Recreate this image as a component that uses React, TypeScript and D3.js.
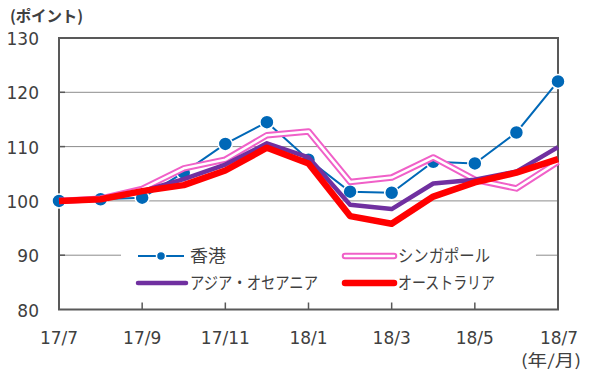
import React from "react";
import * as d3 from "d3";

const months = ["17/7","17/8","17/9","17/10","17/11","17/12","18/1","18/2","18/3","18/4","18/5","18/6","18/7"];
const xTickLabels = ["17/7","17/9","17/11","18/1","18/3","18/5","18/7"];
const yTicks = [80, 90, 100, 110, 120, 130];

const hongKong = [100, 100.3, 100.6, 105.2, 110.5, 114.5, 107.6, 101.7, 101.5, 107.2, 106.9, 112.6, 122.0];
const singapore = [100, 100.4, 102.2, 106.0, 107.6, 112.1, 112.8, 103.5, 104.3, 108.0, 103.9, 102.3, 107.2];
const asiaOceania = [100, 100.3, 101.8, 104.0, 106.7, 110.6, 108.0, 99.3, 98.5, 103.2, 103.9, 105.4, 109.9];
const australia = [100, 100.3, 101.8, 102.9, 105.6, 109.8, 106.9, 97.2, 95.8, 100.8, 103.4, 105.2, 107.7];

const seriesNames = ["香港", "シンガポール", "アジア・オセアニア", "オーストラリア"];

const W = 596, H = 376;
const L = 59, R = 558, T = 38, B = 309.5;
const FONT = "'Noto Sans CJK JP', 'Noto Sans', sans-serif";
const NUMFONT = "'DejaVu Sans', Verdana, sans-serif";
const TXT = "#404040";
const AXIS = "#595959";
const BLUE = "#0068B7";
const PINK = "#F060C8";
const PURPLE = "#7030A0";
const RED = "#FF0000";

export default function App() {
  const x = d3.scalePoint<string>().domain(months).range([L, R]);
  const y = d3.scaleLinear().domain([80, 130]).range([B, T]);
  const line = d3.line<number>().x((_, i) => x(months[i]) as number).y(d => y(d));

  const legendRows = [256, 283];
  const legendCols = [138, 345];
  const legendTextX = [190, 398];
  const legendTextLen = [36, 92, 128, 97];

  return (
    <svg width={W} height={H} style={{ position: "absolute", left: 0, top: 0, background: "#fff" }}>
      {/* gridlines */}
      {yTicks.filter(v => v > 80 && v < 130).map(v => (
        <g key={v}>
          <line x1={L} x2={R} y1={y(v)} y2={y(v)} stroke="#8c8c8c" strokeWidth={1} />
          <line x1={L} x2={L + 6} y1={y(v)} y2={y(v)} stroke={AXIS} strokeWidth={1.5} />
        </g>
      ))}
      {/* x ticks */}
      {xTickLabels.slice(1, -1).map(m => (
        <line key={m} x1={x(m)} x2={x(m)} y1={B} y2={B - 7} stroke={AXIS} strokeWidth={1.5} />
      ))}
      {/* frame */}
      <rect x={L} y={T} width={R - L} height={B - T} fill="none" stroke={AXIS} strokeWidth={2} />

      {/* legend background */}
      <rect x={121} y={242} width={415} height={56} fill="#fff" />

      {/* series */}
      <path d={line(hongKong) || ""} fill="none" stroke={BLUE} strokeWidth={2} />
      {hongKong.map((v, i) => (
        <circle key={i} cx={x(months[i])} cy={y(v)} r={7} fill={BLUE} stroke="#fff" strokeWidth={1.5} />
      ))}
      <path d={line(singapore) || ""} fill="none" stroke={PINK} strokeWidth={6.5} strokeLinejoin="round" />
      <path d={line(singapore) || ""} fill="none" stroke="#fff" strokeWidth={2.5} strokeLinejoin="round" />
      <path d={line(asiaOceania) || ""} fill="none" stroke={PURPLE} strokeWidth={4.5} strokeLinejoin="round" />
      <path d={line(australia) || ""} fill="none" stroke={RED} strokeWidth={6.5} strokeLinejoin="round" />

      {/* y labels */}
      {yTicks.map(v => (
        <text key={v} x={39} y={y(v) + 1} dy="0.36em" textAnchor="end" fontFamily={NUMFONT} fontSize={17} fill={TXT}>{v}</text>
      ))}
      {/* x labels */}
      {xTickLabels.map((m, i) => (
        <text key={m} x={(x(m) as number) + (i === xTickLabels.length - 1 ? 1 : 0)} y={344} textAnchor="middle" fontFamily={NUMFONT} fontSize={17} fill={TXT}>{m}</text>
      ))}
      <text x={521} y={366} fontFamily={FONT} fontSize={16} fill={TXT} textLength={60} lengthAdjust="spacingAndGlyphs">(年/月)</text>
      <text x={10} y={22} fontFamily={FONT} fontSize={15.5} fontWeight={700} fill={TXT} textLength={73} lengthAdjust="spacing">(ポイント)</text>

      {/* legend */}
      <g>
        <line x1={legendCols[0]} x2={legendCols[0] + 46} y1={legendRows[0]} y2={legendRows[0]} stroke={BLUE} strokeWidth={2} />
        <circle cx={legendCols[0] + 23} cy={legendRows[0]} r={4.5} fill={BLUE} stroke="#fff" strokeWidth={1.5} />

        <line x1={legendCols[1]} x2={legendCols[1] + 49} y1={legendRows[0]} y2={legendRows[0]} stroke={PINK} strokeWidth={6.5} strokeLinecap="round" />
        <line x1={legendCols[1]} x2={legendCols[1] + 49} y1={legendRows[0]} y2={legendRows[0]} stroke="#fff" strokeWidth={2.5} strokeLinecap="round" />

        <line x1={legendCols[0]} x2={legendCols[0] + 48} y1={legendRows[1]} y2={legendRows[1]} stroke={PURPLE} strokeWidth={4.5} strokeLinecap="round" />

        <line x1={legendCols[1]} x2={legendCols[1] + 49} y1={legendRows[1]} y2={legendRows[1]} stroke={RED} strokeWidth={6.5} strokeLinecap="round" />

        {seriesNames.map((n, i) => (
          <text key={n} x={legendTextX[i % 2]} y={legendRows[Math.floor(i / 2)]} dy="0.36em" fontFamily={FONT} fontSize={17} fill={TXT}
            textLength={legendTextLen[i]} lengthAdjust="spacingAndGlyphs">{n}</text>
        ))}
      </g>
    </svg>
  );
}
